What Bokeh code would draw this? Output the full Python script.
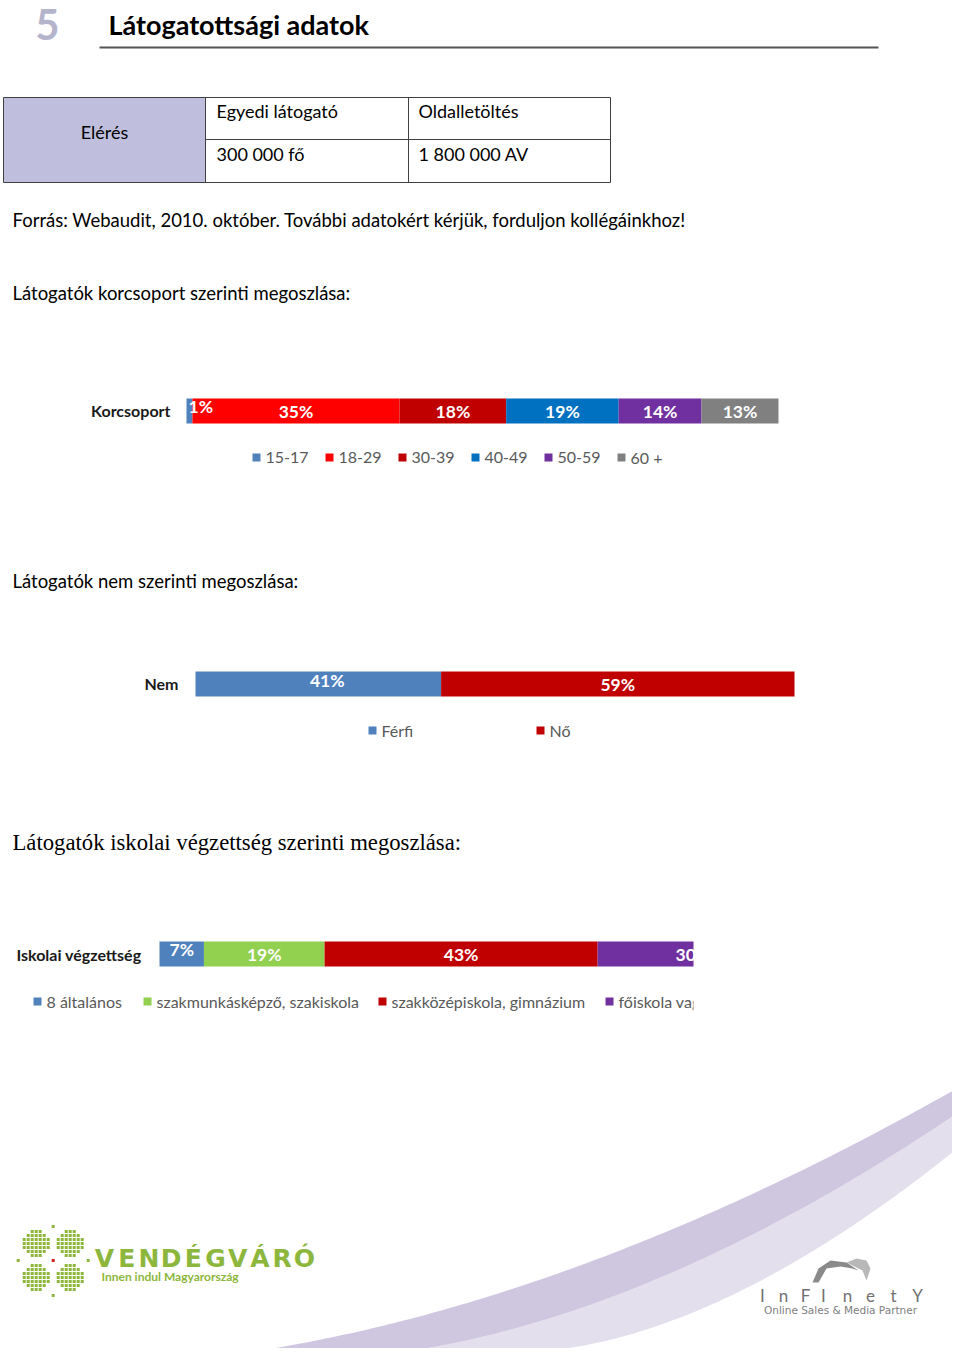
import numpy as np
from bokeh.plotting import figure
from bokeh.models import Range1d, ColumnDataSource
from bokeh.core.properties import value
from bokeh.embed import file_html
from bokeh.resources import INLINE

# ---------------- data ----------------
page_title = "Látogatottsági adatok"
section_no = "5"
table_row_label = "Elérés"
table_header = ["Egyedi látogató", "Oldalletöltés"]
table_values = ["300 000 fő", "1 800 000 AV"]
source_note = "Forrás: Webaudit, 2010. október. További adatokért kérjük, forduljon kollégáinkhoz!"

age_title = "Látogatók korcsoport szerinti megoszlása:"
age_category = "Korcsoport"
age_groups = ["15-17", "18-29", "30-39", "40-49", "50-59", "60 +"]
age_values = [1, 35, 18, 19, 14, 13]

gender_title = "Látogatók nem szerinti megoszlása:"
gender_category = "Nem"
gender_groups = ["Férfi", "Nő"]
gender_values = [41, 59]

edu_title = "Látogatók iskolai végzettség szerinti megoszlása:"
edu_category = "Iskolai végzettség"
edu_groups = ["8 általános", "szakmunkásképző, szakiskola",
              "szakközépiskola, gimnázium", "főiskola vagy egyetem"]
edu_values = [7, 19, 43, 30]

# ---------------- styles ----------------
age_colors = ["#4f81bd", "#ff0000", "#c00000", "#0070c0", "#7030a0", "#808080"]
gender_colors = ["#4f81bd", "#c00000"]
edu_colors = ["#4f81bd", "#92d050", "#c00000", "#7030a0"]

BODY = value("Lato")
SERIF = value("Liberation Serif")
TXT = "#000000"
LEG = "#595959"

W, H = 952, 1348
X0, X1 = 0, W
Y0, Y1 = 0, H

p = figure(width=W, height=H, output_backend="svg", toolbar_location=None,
           x_range=Range1d(X0, X1), y_range=Range1d(Y1, Y0),
           x_axis_type=None, y_axis_type=None, min_border=0,
           outline_line_color=None, background_fill_color="white",
           border_fill_color="white")
p.xgrid.visible = False
p.ygrid.visible = False


def pct_range(px0, px100):
    s = 100.0 / (px100 - px0)
    return Range1d(-(px0 - X0) * s, 100 + (X1 - px100) * s)


p.extra_x_ranges = {"age": pct_range(186, 778),
                    "gender": pct_range(195, 794),
                    "edu": pct_range(159, 794)}

# ---------------- decorative swoosh ----------------
t = np.linspace(0, 1, 120)[:, None]
P0, P1, P2 = np.array([266, 1349]), np.array([590, 1296]), np.array([958, 1087])
U = (1 - t) ** 2 * P0 + 2 * (1 - t) * t * P1 + t ** 2 * P2
ext = np.array([[1000, 1060]])
M = U + (1 - t) * np.array([153, 0]) + t * np.array([0, 25])
L = U + (1 - t) * np.array([292, 0]) + t * np.array([0, 60])
band1 = np.vstack([U, ext, M[::-1]])
band2 = np.vstack([M, [[1000, 1090]], L[::-1]])
p.patch(band2[:, 0], band2[:, 1], fill_color="#e3dfed", line_color=None)
p.patch(band1[:, 0], band1[:, 1], fill_color="#cec7df", line_color=None)

# ---------------- header ----------------
p.text(x=[47], y=[24], text=[section_no], text_font=BODY, text_font_style="bold",
       text_font_size="42px", text_color="#b4b4cc", text_align="center",
       text_baseline="middle")
p.text(x=[108], y=[24], text=[page_title], text_font=BODY, text_font_style="bold",
       text_font_size="27px", text_color="#000000", text_baseline="middle")
p.segment(x0=[99], y0=[47], x1=[878], y1=[47], line_color="#555555", line_width=2)

# ---------------- table ----------------
p.quad(left=[3], right=[205], top=[97], bottom=[182], fill_color="#bfbfdd",
       line_color=None)
seg_x0 = [3, 3, 3, 610, 205, 408, 205]
seg_y0 = [97, 182, 97, 97, 97, 97, 139]
seg_x1 = [610, 610, 3, 610, 205, 408, 610]
seg_y1 = [97, 182, 182, 182, 182, 182, 139]
p.segment(x0=seg_x0, y0=seg_y0, x1=seg_x1, y1=seg_y1, line_color="#404040",
          line_width=1)
p.text(x=[104], y=[131], text=[table_row_label], text_font=BODY,
       text_font_size="18px", text_color=TXT, text_align="center",
       text_baseline="middle")
p.text(x=[216, 418], y=[110, 110], text=table_header, text_font=BODY,
       text_font_size="18px", text_color=TXT, text_baseline="middle")
p.text(x=[216, 418], y=[153, 153], text=table_values, text_font=BODY,
       text_font_size="18px", text_color=TXT, text_baseline="middle")

# ---------------- section texts ----------------
p.text(x=[12, 12, 12], y=[219, 292, 580], text=[source_note, age_title, gender_title],
       text_font=BODY, text_font_size="18.5px", text_color=TXT, text_baseline="middle")
p.text(x=[12], y=[842], text=[edu_title], text_font=SERIF, text_font_size="22.7px",
       text_color=TXT, text_baseline="middle")


# ---------------- stacked bars ----------------
def stacked_bar(key, values, colors, bar_y, lab_y, lab_dx, lab_align):
    vals = np.array(values, dtype=float)
    right = np.cumsum(vals)
    left = right - vals
    n = len(vals)
    src = ColumnDataSource(dict(left=left, right=right, y=[bar_y] * n, color=colors))
    p.hbar(y="y", left="left", right="right", height=25, fill_color="color",
           line_color=None, source=src, x_range_name=key)
    lx = [left[i] if lab_align[i] == "left" else (left[i] + right[i]) / 2
          for i in range(n)]
    lsrc = ColumnDataSource(dict(x=lx, y=lab_y, text=[f"{v}%" for v in values],
                                 dx=lab_dx, align=lab_align))
    p.text(x="x", y="y", text="text", x_offset="dx", text_align="align",
           source=lsrc, x_range_name=key, text_font=BODY, text_font_style="bold",
           text_font_size="17.5px", text_color="white", text_baseline="middle")


def legend(names, colors, sq_x, leg_y):
    p.rect(x=[s + 4 for s in sq_x], y=[leg_y] * len(names), width=8, height=8,
           fill_color=colors, line_color=None)
    p.text(x=[s + 13 for s in sq_x], y=[leg_y] * len(names), text=names,
           text_font=BODY, text_font_size="16px", text_color=LEG,
           text_baseline="middle")


def category(label, x, y):
    p.text(x=[x], y=[y], text=[label], text_font=BODY, text_font_style="bold",
           text_font_size="16px", text_color="#1a1a1a", text_align="right",
           text_baseline="middle")


# age
category(age_category, 170, 410)
stacked_bar("age", age_values, age_colors, 410.5,
            [406, 411, 411, 411, 411, 411], [2, 0, 0, 0, 0, 0],
            ["left", "center", "center", "center", "center", "center"])
legend(age_groups, age_colors, [252, 325, 398, 471, 544, 617], 457)

# gender
category(gender_category, 178, 683)
stacked_bar("gender", gender_values, gender_colors, 683.5, [680, 684], [9, 0],
            ["center", "center"])
legend(gender_groups, gender_colors, [368, 536], 730)

# education
category(edu_category, 141, 954)
stacked_bar("edu", edu_values, edu_colors, 953.5, [949, 954, 954, 954], [0, 0, 0, 0],
            ["center", "center", "center", "center"])
legend(edu_groups, edu_colors, [33, 143, 378, 605], 1001)
# the original chart object is cropped on its right side
p.quad(left=[693], right=[X1], top=[930], bottom=[1015], fill_color="white",
       line_color=None)

# ---------------- logos (decorative) ----------------
green = "#8cb63c"
cx, cy = 52.7, 1260
dx, dy = [], []
for qx in (-1, 1):
    for qy in (-1, 1):
        bx, by = cx + qx * 17, cy + qy * 17
        for i in range(-3, 4):
            for j in range(-3, 4):
                if abs(i) + abs(j) <= 4:
                    dx.append(bx + i * 4)
                    dy.append(by + j * 4)
dx += [cx, cx, cx - 35, cx + 35]
dy += [cy - 34, cy + 35, cy, cy]
p.rect(x=dx, y=dy, width=3, height=3, fill_color=green, line_color=None)
p.rect(x=[cx], y=[cy], width=3, height=3, fill_color="#d02020", line_color=None)
letters = list("VENDÉGVÁRÓ")
p.text(x=[104 + k * 22.2 for k in range(len(letters))], y=[1258] * len(letters),
       text=letters, text_font=value("DejaVu Sans"), text_font_style="bold",
       text_font_size="25px", text_color=green, text_align="center",
       text_baseline="middle")
p.text(x=[101], y=[1276], text=["Innen indul Magyarország"], text_font=BODY,
       text_font_style="bold", text_font_size="12px", text_color=green,
       text_baseline="middle")

# infinety swirl
sw_x1 = [812, 818, 830, 846, 858, 852, 840, 826, 818]
sw_y1 = [1282, 1268, 1260, 1262, 1270, 1268, 1266, 1268, 1282]
sw_x2 = [846, 856, 866, 870, 866, 862, 858]
sw_y2 = [1262, 1258, 1260, 1268, 1280, 1270, 1268]
p.patch(sw_x1, sw_y1, fill_color="#8a8a8a", line_color=None)
p.patch(sw_x2, sw_y2, fill_color="#b8b8b8", line_color=None)
inf_letters = list("InFInetY")
p.text(x=[762, 783, 805, 823, 847, 870, 893, 917], y=[1295] * 8, text=inf_letters,
       text_font=BODY, text_font_size="17px", text_color="#707070",
       text_align="center", text_baseline="middle")
p.text(x=[840], y=[1309], text=["Online Sales & Media Partner"],
       text_font=value("DejaVu Sans"), text_font_size="10.5px", text_color="#808080",
       text_align="center", text_baseline="middle")

open("out.html", "w").write(file_html(p, INLINE))
